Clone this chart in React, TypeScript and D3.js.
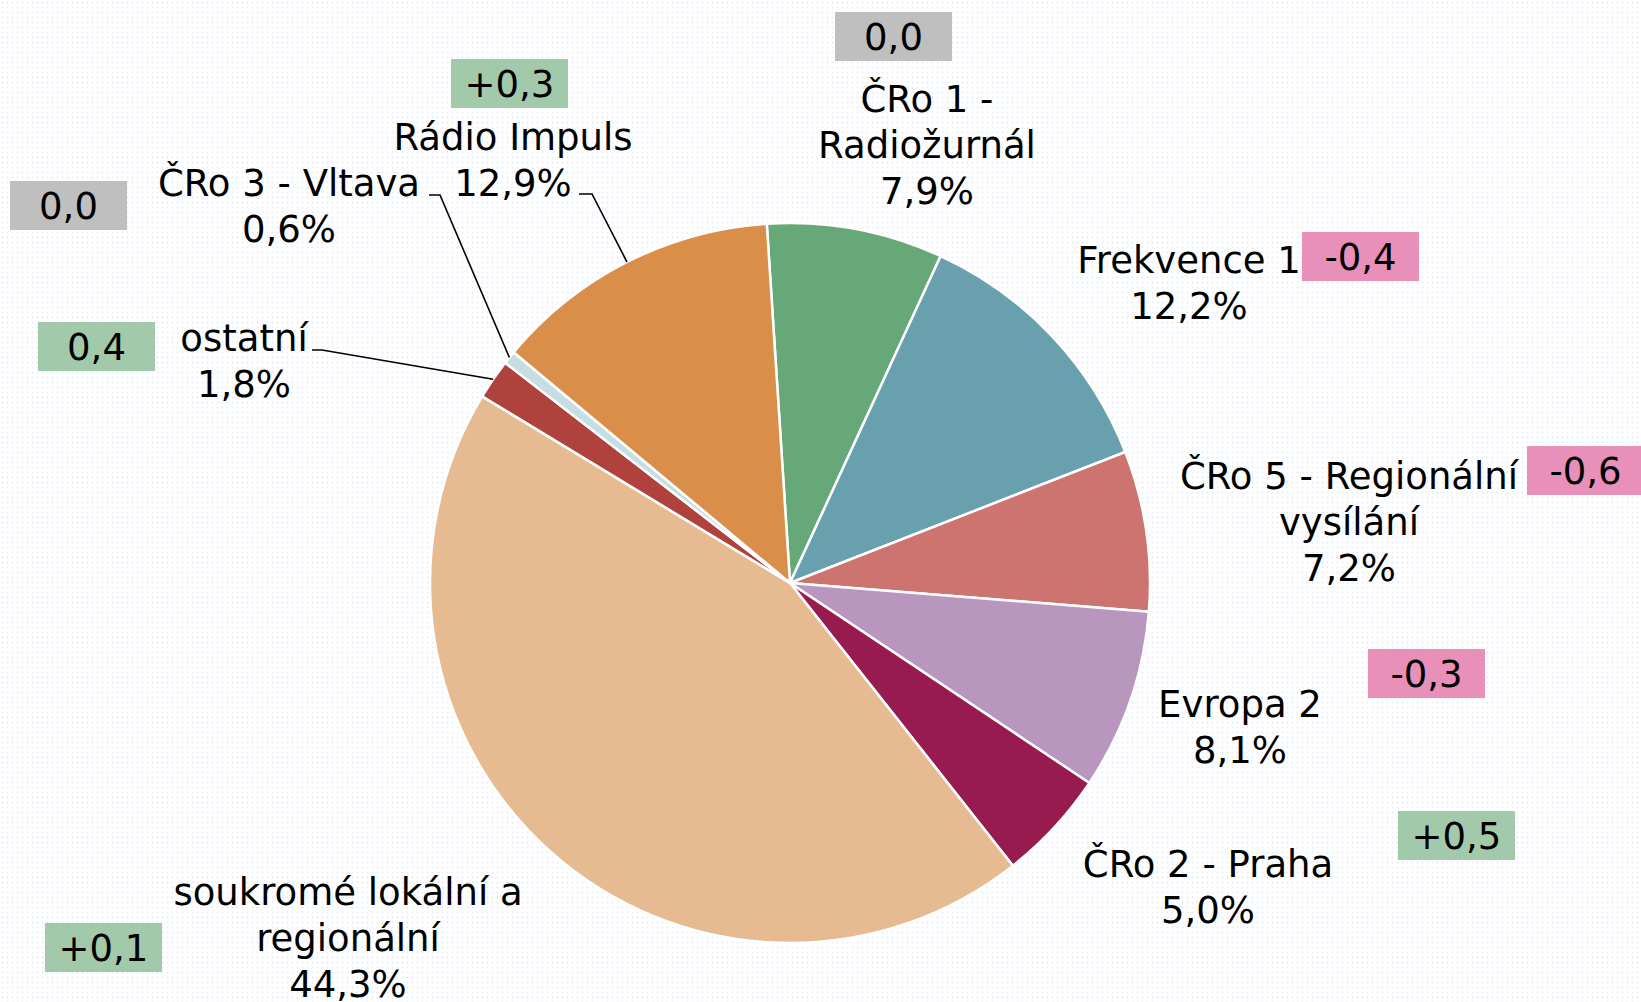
import { useEffect } from "react";
import * as d3 from "d3";

const width = 1641;
const height = 1002;

// data
const stations = [
  "ČRo 1 - Radiožurnál",
  "Frekvence 1",
  "ČRo 5 - Regionální vysílání",
  "Evropa 2",
  "ČRo 2 - Praha",
  "soukromé lokální a regionální",
  "ostatní",
  "ČRo 3 - Vltava",
  "Rádio Impuls",
];
const shares = [7.9, 12.2, 7.2, 8.1, 5.0, 44.3, 1.8, 0.6, 12.9];
const changes = ["0,0", "-0,4", "-0,6", "-0,3", "+0,5", "+0,1", "0,4", "0,0", "+0,3"];
const colors = ["#67a878", "#68a0ad", "#cd7470", "#b996bd", "#981b50", "#e7bb91", "#b0423e", "#c6dee2", "#d98e49"];

// label layout (line breaks, anchor point, change box position)
const labelLines = [
  ["ČRo 1 -", "Radiožurnál"],
  ["Frekvence 1"],
  ["ČRo 5 - Regionální", "vysílání"],
  ["Evropa 2"],
  ["ČRo 2 - Praha"],
  ["soukromé lokální a", "regionální"],
  ["ostatní"],
  ["ČRo 3 - Vltava"],
  ["Rádio Impuls"],
];
const labelPos = [
  [927, 112], [1189, 273], [1349, 489], [1240, 717], [1208, 877],
  [348, 905], [244, 351], [289, 196], [513, 150],
];
const boxPos = [
  [835, 12], [1302, 232], [1527, 446], [1368, 649], [1398, 811],
  [45, 923], [38, 322], [10, 181], [451, 59],
];
// leader line start (label side) for small slices
const leaders: Record<number, [number, number][]> = {
  6: [[312, 350], [322, 350]],
  7: [[429, 195], [440, 195]],
  8: [[579, 194], [592, 194]],
};

const cx = 790;
const cy = 583;
const radius = 360;
const lineH = 46;
const boxW = 117;
const boxH = 49;

const pie = d3
  .pie<number>()
  .sort(null)
  .value((d) => d)
  .startAngle((-3.7 * Math.PI) / 180)
  .endAngle((-3.7 * Math.PI) / 180 + 2 * Math.PI);
const arc = d3.arc<d3.PieArcDatum<number>>().innerRadius(0).outerRadius(radius);

const boxColor = (c: string) => (c === "0,0" ? "#bfbfbf" : c.startsWith("-") ? "#e890b9" : "#a3c9ab");

export default function App() {
  useEffect(() => {
    document.body.style.margin = "0";
  }, []);

  const arcs = pie(shares);
  const font = "'DejaVu Sans', Verdana, sans-serif";

  return (
    <svg width={width} height={height} style={{ display: "block" }}>
      <defs>
        <pattern id="dots" width={5} height={5} patternUnits="userSpaceOnUse">
          <circle cx={2.5} cy={2.5} r={1} fill="#e3ecf5" />
        </pattern>
      </defs>
      <rect width={width} height={height} fill="#ffffff" />
      <rect width={width} height={height} fill="url(#dots)" />

      <g transform={`translate(${cx},${cy})`}>
        {arcs.map((a, i) => (
          <path key={i} d={arc(a) || ""} fill={colors[i]} stroke="#ffffff" strokeWidth={2.5} strokeLinejoin="round" />
        ))}
      </g>

      {Object.entries(leaders).map(([k, pts]) => {
        const a = arcs[+k];
        const mid = (a.startAngle + a.endAngle) / 2;
        const end: [number, number] = [cx + radius * Math.sin(mid), cy - radius * Math.cos(mid)];
        return (
          <polyline
            key={k}
            points={[...pts, end].map((p) => p.join(",")).join(" ")}
            fill="none"
            stroke="#000"
            strokeWidth={1.6}
          />
        );
      })}

      {stations.map((s, i) => {
        const [x, y] = labelPos[i];
        const lines = [...labelLines[i], `${shares[i].toFixed(1).replace(".", ",")}%`];
        return (
          <text key={s} x={x} y={y} textAnchor="middle" fontFamily={font} fontSize={37} fill="#000">
            {lines.map((l, j) => (
              <tspan key={j} x={x} y={y + j * lineH}>
                {l}
              </tspan>
            ))}
          </text>
        );
      })}

      {changes.map((c, i) => {
        const [x, y] = boxPos[i];
        return (
          <g key={i}>
            <rect x={x} y={y} width={boxW} height={boxH} fill={boxColor(c)} />
            <text x={x + boxW / 2} y={y + boxH / 2 + 13} textAnchor="middle" fontFamily={font} fontSize={37} fill="#000">
              {c}
            </text>
          </g>
        );
      })}
    </svg>
  );
}
